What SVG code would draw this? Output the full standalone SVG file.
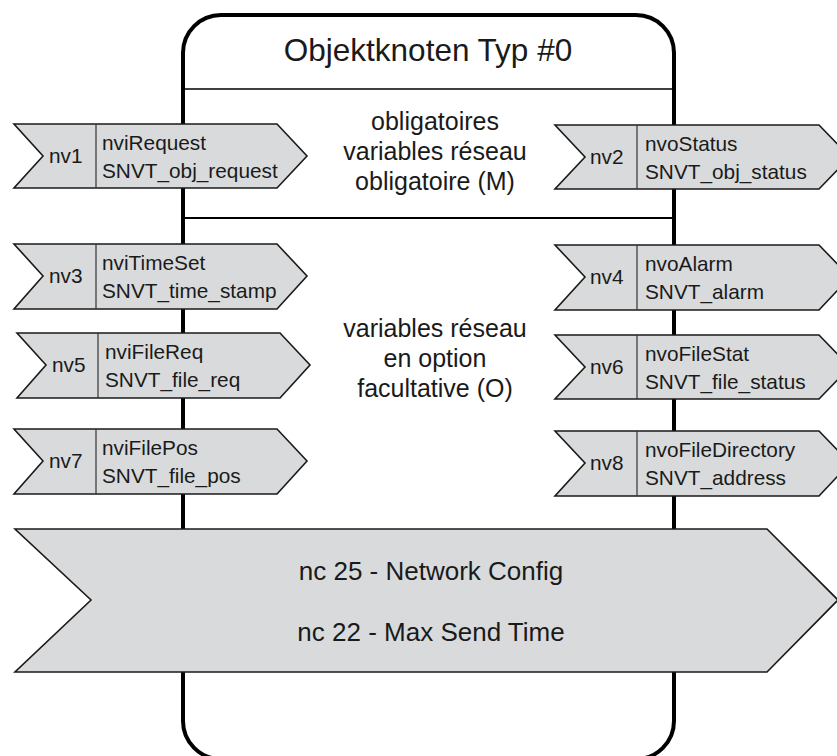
<svg xmlns="http://www.w3.org/2000/svg" width="837" height="756" viewBox="0 0 837 756">
<style>
.frame{fill:#fff;stroke:#000;stroke-width:4}
.sep{stroke:#000;stroke-width:2}
.tag{fill:#d9dadc;stroke:#1a1a1a;stroke-width:1.6;stroke-linejoin:miter}
.div{stroke:#333;stroke-width:1.2}
text{font-family:"Liberation Sans",Arial,sans-serif;fill:#1a1a1a}
.t{font-size:20.8px}
.mid{font-size:25px;text-anchor:middle}
.title{font-size:31.5px;text-anchor:middle}
.nc{font-size:26px;text-anchor:middle}
</style>
<rect width="837" height="756" fill="#fff"/>
<g id="node-frame">
<rect class="frame" x="183" y="15" width="491" height="744" rx="38" ry="38"/>
<line class="sep" x1="183" y1="89" x2="674" y2="89" style="stroke-width:1.6"/>
<line class="sep" x1="183" y1="218" x2="674" y2="218"/>
<text class="title" x="428" y="61">Objektknoten Typ #0</text>
<text class="mid" x="435" y="130">obligatoires</text>
<text class="mid" x="435" y="160">variables réseau</text>
<text class="mid" x="435" y="190">obligatoire (M)</text>
<text class="mid" x="435" y="337">variables réseau</text>
<text class="mid" x="435" y="367">en option</text>
<text class="mid" x="435" y="397">facultative (O)</text>
</g>
<g id="connectors"></g>
<g id="nv1">
<polygon class="tag" points="14,124 277,124 307,156 277,188 14,188 43,156"/>
<line class="div" x1="96" y1="124" x2="96" y2="188"/>
<text class="t" x="49" y="163">nv1</text>
<text class="t" x="102" y="150">nviRequest</text>
<text class="t" x="102" y="178">SNVT_obj_request</text>
</g>
<g id="nv2">
<polygon class="tag" points="555,125 819,125 850,157 819,189 555,189 585,157"/>
<line class="div" x1="637" y1="125" x2="637" y2="189"/>
<text class="t" x="590" y="164">nv2</text>
<text class="t" x="645" y="151">nvoStatus</text>
<text class="t" x="645" y="179">SNVT_obj_status</text>
</g>
<g id="nv3">
<polygon class="tag" points="14,244 277,244 307,276 277,309 14,309 43,276"/>
<line class="div" x1="96" y1="244" x2="96" y2="309"/>
<text class="t" x="49" y="283">nv3</text>
<text class="t" x="102" y="270">nviTimeSet</text>
<text class="t" x="102" y="298">SNVT_time_stamp</text>
</g>
<g id="nv4">
<polygon class="tag" points="555,245 819,245 850,277 819,310 555,310 585,277"/>
<line class="div" x1="637" y1="245" x2="637" y2="310"/>
<text class="t" x="590" y="284">nv4</text>
<text class="t" x="645" y="271">nvoAlarm</text>
<text class="t" x="645" y="299">SNVT_alarm</text>
</g>
<g id="nv5">
<polygon class="tag" points="17,333 280,333 310,365 280,398 17,398 46,365"/>
<line class="div" x1="98" y1="333" x2="98" y2="398"/>
<text class="t" x="52" y="372">nv5</text>
<text class="t" x="105" y="359">nviFileReq</text>
<text class="t" x="105" y="387">SNVT_file_req</text>
</g>
<g id="nv6">
<polygon class="tag" points="555,335 819,335 850,367 819,399 555,399 585,367"/>
<line class="div" x1="637" y1="335" x2="637" y2="399"/>
<text class="t" x="590" y="374">nv6</text>
<text class="t" x="645" y="361">nvoFileStat</text>
<text class="t" x="645" y="389">SNVT_file_status</text>
</g>
<g id="nv7">
<polygon class="tag" points="14,429 277,429 307,461 277,494 14,494 43,461"/>
<line class="div" x1="96" y1="429" x2="96" y2="494"/>
<text class="t" x="49" y="468">nv7</text>
<text class="t" x="102" y="455">nviFilePos</text>
<text class="t" x="102" y="483">SNVT_file_pos</text>
</g>
<g id="nv8">
<polygon class="tag" points="555,431 819,431 850,463 819,496 555,496 585,463"/>
<line class="div" x1="637" y1="431" x2="637" y2="496"/>
<text class="t" x="590" y="470">nv8</text>
<text class="t" x="645" y="457">nvoFileDirectory</text>
<text class="t" x="645" y="485">SNVT_address</text>
</g>
<g id="nc">
<polygon class="tag" points="15,529 767,529 838,600 767,672 15,672 91,600"/>
<text class="nc" x="431" y="580">nc 25 - Network Config</text>
<text class="nc" x="431" y="641">nc 22 - Max Send Time</text>
</g>
</svg>
